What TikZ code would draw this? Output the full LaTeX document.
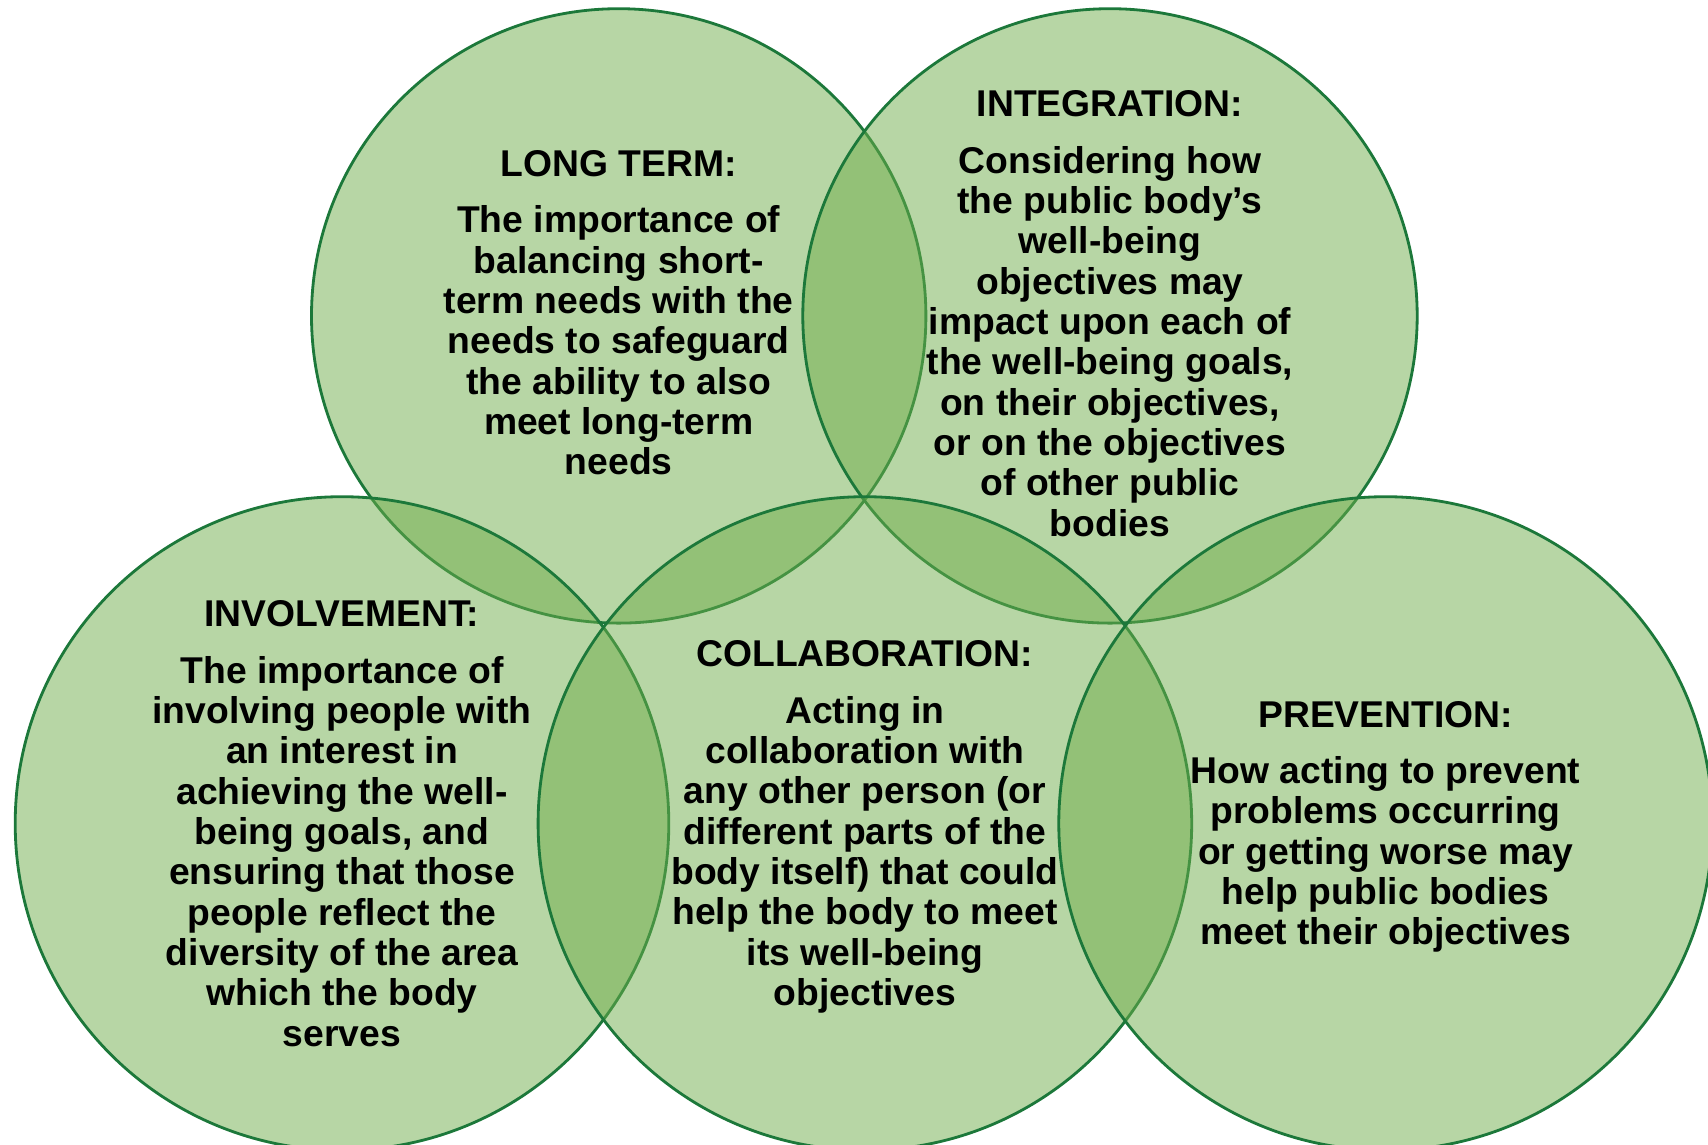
\documentclass[tikz,border=0pt]{standalone}
\usepackage{fontspec}
\setmainfont{Liberation Sans}
\usepackage{tikz}
\usetikzlibrary{calc,positioning}

\definecolor{vennfill}{RGB}{111,173,75}
\definecolor{vennline}{RGB}{28,120,58}

\begin{document}
\begin{tikzpicture}[x=0.01cm,y=-0.01cm,
    venn/.style={draw=vennline,line width=0.8pt,fill=vennfill,fill opacity=0.5,draw opacity=1},
    txt/.style={align=center,inner sep=0pt,text opacity=1,
      font=\fontsize{10.6}{11.47}\selectfont\bfseries}]
  \useasboundingbox (0,0) rectangle (1708,1145);
  % top row
  \coordinate (longc) at (618.7,315.9);
  \coordinate (intc) at (1110,315.9);
  % bottom row
  \coordinate (invc) at (342,823.5);
  \coordinate (colc) at (864.9,823.5);
  \coordinate (prevc) at (1385.6,823.5);
  \begin{scope}
    \clip (0,0) rectangle (1708,1145);
    \draw[venn] (longc) circle (307.2);
    \draw[venn] (intc) circle (307.2);
    \draw[venn] (invc) circle (326.8);
    \draw[venn] (colc) circle (326.8);
    \draw[venn] (prevc) circle (326.8);
  \end{scope}
  \node[txt] (longterm) at ($(longc)+(0,-3.3)$) {LONG TERM:\\[4.6pt]
    The importance of\\balancing short-\\term needs with the\\needs to safeguard\\
    the ability to also\\meet long-term\\needs};
  \node[txt] (integration) at ($(intc)+(0,-2.2)$) {INTEGRATION:\\[4.6pt]
    Considering how\\the public body’s\\well-being\\objectives may\\
    impact upon each of\\the well-being goals,\\on their objectives,\\
    or on the objectives\\of other public\\bodies};
  \node[txt] (involvement) at (invc) {INVOLVEMENT:\\[4.6pt]
    The importance of\\involving people with\\an interest in\\achieving the well-\\
    being goals, and\\ensuring that those\\people reflect the\\
    diversity of the area\\which the body\\serves};
  \node[txt] (collaboration) at ($(colc)+(0,3.3)$) {COLLABORATION:\\[4.6pt]
    Acting in\\collaboration with\\any other person (or\\different parts of the\\
    body itself) that could\\help the body to meet\\its well-being\\objectives};
  \node[txt] (prevention) at ($(prevc)+(0,3.3)$) {PREVENTION:\\[4.6pt]
    How acting to prevent\\problems occurring\\or getting worse may\\
    help public bodies\\meet their objectives};
\end{tikzpicture}
\end{document}
